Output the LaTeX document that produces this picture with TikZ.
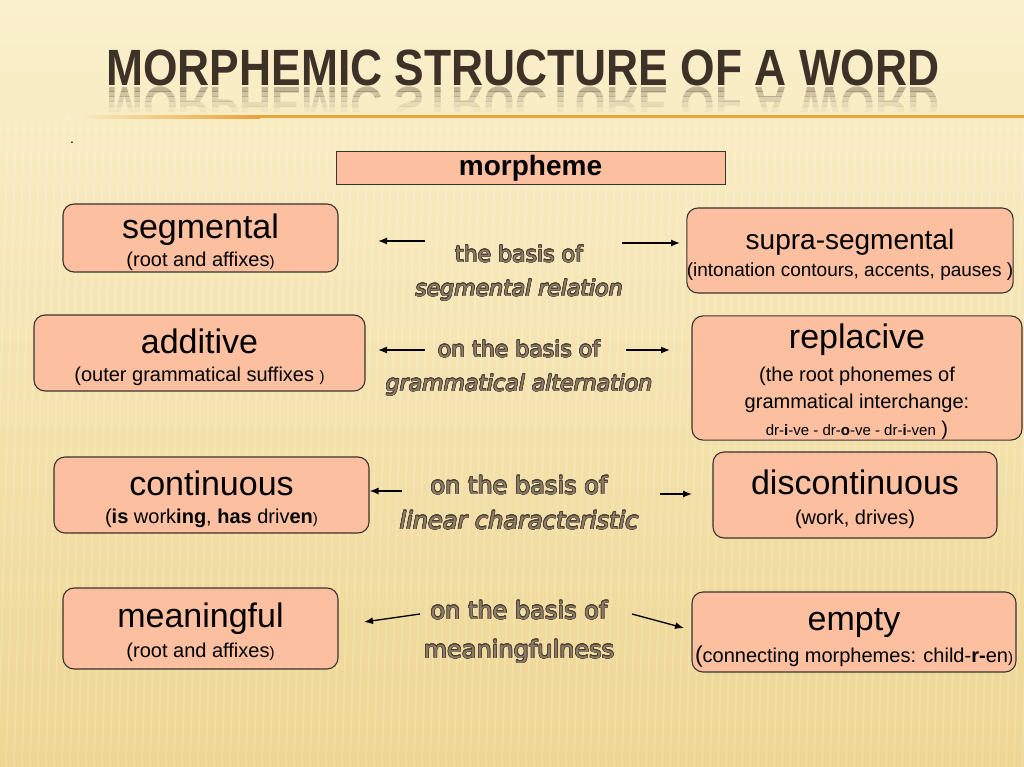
\documentclass[tikz,border=0pt]{standalone}
\usepackage{fontspec}
\setmainfont{Liberation Sans}
\newfontfamily\titlefont[FakeStretch=0.87]{Liberation Sans}
\newfontfamily\basisfont{DejaVu Sans}
\usepackage{contour}
\contourlength{0.6pt}
\usetikzlibrary{arrows.meta, positioning}

\definecolor{bgtop}{HTML}{FAF0CC}
\definecolor{bgbot}{HTML}{EED692}
\definecolor{titlebrown}{HTML}{3E3228}
\definecolor{rule}{HTML}{E8A33A}
\definecolor{boxfill}{HTML}{FCBFA0}
\definecolor{boxline}{HTML}{3A3330}
\definecolor{basisgrey}{HTML}{8C7D6B}
\definecolor{basisdark}{HTML}{4A3E30}

\newcommand\headfont{\fontsize{34}{36}\selectfont\rule{0pt}{33pt}}
\newcommand\notefont{\fontsize{20}{28}\selectfont}
\newcommand\tinyfont{\fontsize{15}{15}\selectfont}
\newcommand\titletext{MORPHEMIC STRUCTURE OF A WORD}

\begin{document}
\begin{tikzpicture}[x=1pt, y=-1pt, >={Latex[length=9pt,width=7pt]},
  box/.style={draw=boxline, line width=1.1pt, rounded corners=11pt, fill=boxfill, align=center, inner sep=0pt, font=\notefont},
  basis/.style={text=basisgrey, inner sep=0pt, anchor=base},
  link/.style={->, line width=1.3pt}]

% background
\shade[top color=bgtop, bottom color=bgbot] (0,0) rectangle (1024,767);
\useasboundingbox (0,0) rectangle (1024,767);
\foreach \sx in {0,8,...,1040}
  \draw[white, opacity=.16, line width=2pt] (\sx,125) -- (\sx-18,767);

% title and its reflection
\node[font=\titlefont\bfseries\fontsize{51}{51}\selectfont, text=titlebrown, anchor=base] (title) at (523,86) {\titletext};
\foreach \k/\op in {0/.30, 1/.22, 2/.15, 3/.09, 4/.04} {
  \begin{scope}
  \clip (100,87+5*\k) rectangle (950,92+5*\k);
  \node[font=\titlefont\bfseries\fontsize{51}{51}\selectfont, text=titlebrown, anchor=base, opacity=\op] at (523,88) {\scalebox{1}[-1]{\titletext}};
  \end{scope}
}
\shade[left color=bgtop, right color=rule] (65,115.5) rectangle (260,118.5);
\fill[rule] (260,115.5) rectangle (1024,118.5);
\node[font=\fontsize{14}{14}\selectfont] (dot) at (72,143) {.};

% morpheme
\node[draw=boxline, line width=1pt, fill=boxfill, minimum width=389pt, minimum height=33pt,
  font=\bfseries\fontsize{28}{28}\selectfont] (morpheme) at (530.5,168.5) {morpheme};

% left column
\node[box, minimum width=275pt, minimum height=68pt] (segmental) at (200.5,238)
  {{\headfont segmental}\\(root and affixes{\tinyfont)}};
\node[box, minimum width=331pt, minimum height=76pt] (additive) at (199.5,353)
  {{\headfont additive}\\(outer grammatical suffixes {\tinyfont)}};
\node[box, minimum width=315pt, minimum height=76pt] (continuous) at (211.5,495)
  {{\headfont continuous}\\(\textbf{is} work\textbf{ing}, \textbf{has} driv\textbf{en}{\tinyfont)}};
\node[box, minimum width=275pt, minimum height=81pt] (meaningful) at (200.5,628.5)
  {{\headfont meaningful}\\[2pt](root and affixes{\tinyfont)}};

% right column
\node[box, minimum width=316pt, minimum height=85pt, font=\fontsize{19}{27}\selectfont] (suprasegmental) at (850,250.5)
  {{\fontsize{28}{30}\selectfont\rule{0pt}{28pt}supra-segmental}\\(intonation contours, accents, pauses )};
\node[box, minimum width=330pt, minimum height=123pt, font=\fontsize{20}{27}\selectfont] (replacive) at (857,378)
  {{\headfont replacive}\\[6pt](the root phonemes of\\grammatical interchange:\\
   {\tinyfont dr-\textbf{i}-ve - dr-\textbf{o}-ve - dr-\textbf{i}-ven} )};
\node[box, minimum width=284pt, minimum height=86pt] (discontinuous) at (855,495)
  {{\headfont discontinuous}\\[2pt](work, drives)};
\node[box, minimum width=324pt, minimum height=80pt] (empty) at (854,632)
  {{\headfont empty}\\[4pt]{\fontsize{23}{28}\selectfont(}connecting morphemes: child-\textbf{r-}en{\tinyfont)}};

% the basis labels
\begin{scope}[node distance=34pt, font=\basisfont\fontsize{22}{24}\selectfont]
\node[basis] (segbasis) at (519,262) {\contour{basisdark}{the basis of}};
\node[basis, below=of segbasis.base, anchor=base, font=\basisfont\itshape\fontsize{22}{24}\selectfont] (segrelation) {\contour{basisdark}{segmental relation}};
\node[basis] (altbasis) at (519,357) {\contour{basisdark}{on the basis of}};
\node[basis, below=of altbasis.base, anchor=base, font=\basisfont\itshape\fontsize{22}{24}\selectfont] (alternation) {\contour{basisdark}{grammatical alternation}};
\end{scope}
\begin{scope}[node distance=35pt, font=\basisfont\fontsize{24}{26}\selectfont]
\node[basis] (linbasis) at (519,494) {\contour{basisdark}{on the basis of}};
\node[basis, below=of linbasis.base, anchor=base, font=\basisfont\itshape\fontsize{24}{26}\selectfont] (linear) {\contour{basisdark}{linear characteristic}};
\node[basis] (meanbasis) at (519,619) {\contour{basisdark}{on the basis of}};
\node[basis, below=39pt of meanbasis.base, anchor=base] (meaningfulness) {\contour{basisdark}{meaningfulness}};
\end{scope}

% arrows
\coordinate (segtail) at (425,241);
\coordinate (seghead) at (378,241);
\coordinate (supratail) at (622,243);
\coordinate (suprahead) at (680,243);
\coordinate (addtail) at (425,350);
\coordinate (addhead) at (378,350);
\coordinate (repltail) at (626,350);
\coordinate (replhead) at (670,350);
\coordinate (conttail) at (402,491);
\coordinate (disctail) at (660,494);
\coordinate (dischead) at (692,494);
\coordinate (meantail) at (420,614);
\coordinate (meanhead) at (364,622);
\coordinate (emptytail) at (632,614);
\coordinate (emptyhead) at (684,628);

\draw[link] (segtail) -- (seghead);
\draw[link] (supratail) -- (suprahead);
\draw[link] (addtail) -- (addhead);
\draw[link] (repltail) -- (replhead);
\draw[link] (conttail) -- (continuous.east |- conttail);
\draw[link] (disctail) -- (dischead);
\draw[link] (meantail) -- (meanhead);
\draw[link] (emptytail) -- (emptyhead);

\end{tikzpicture}
\end{document}
